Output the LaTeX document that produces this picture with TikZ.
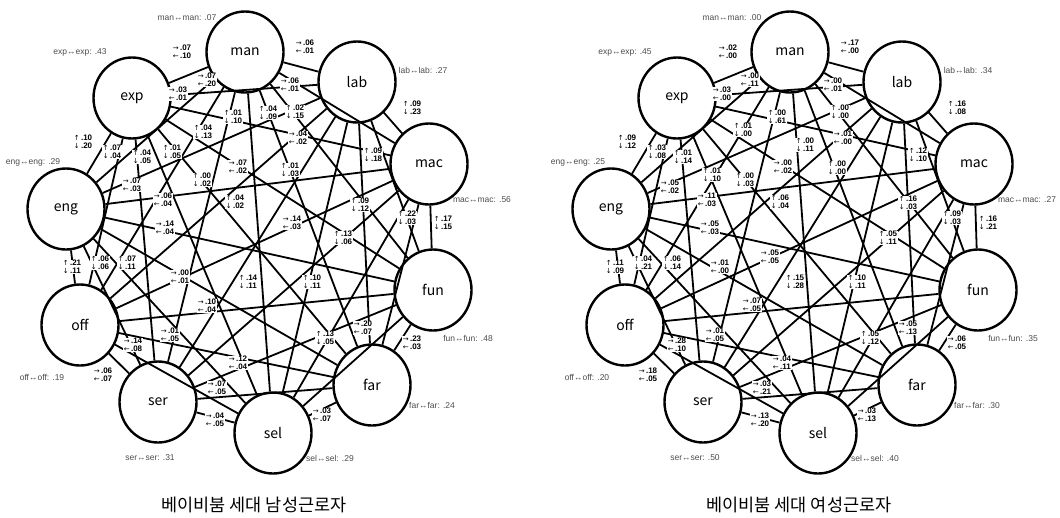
\documentclass[tikz,border=0pt]{standalone}
\usepackage{fontspec}
\setmainfont{Liberation Sans}
\newfontfamily\kr{Noto Sans CJK KR}
\newfontfamily\arr{DejaVu Sans}
\usetikzlibrary{shapes.geometric}
\newcommand\ra{{\arr\mdseries\fontsize{7}{7}\selectfont →}}
\newcommand\la{{\arr\mdseries\fontsize{7}{7}\selectfont ←}}
\newcommand\ua{{\arr\mdseries\fontsize{7}{7}\selectfont ↑}}
\newcommand\da{{\arr\mdseries\fontsize{7}{7}\selectfont ↓}}
\begin{document}
\begin{tikzpicture}[x=1pt,y=-1pt,
  var/.style={ellipse,draw,line width=2.4pt,minimum width=77pt,minimum height=81pt,
    inner sep=0pt,fill=white,font=\kr\fontsize{14}{14}\selectfont},
  edge/.style={line width=1.8pt},
  hlab/.style={fill=white,inner sep=0.8pt,align=left,
    font=\bfseries\fontsize{8}{7.6}\selectfont},
  selflab/.style={inner sep=0pt,text=black!70,font=\fontsize{8.5}{9}\selectfont},
  caption/.style={inner sep=0pt,font=\kr\fontsize{17.5}{18}\selectfont}]
\useasboundingbox (0,0) rectangle (1060,517);

% latent variables of both panels (right panel shifted by 545)
\foreach \p/\dx in {L/0,R/545}{
  \foreach \n/\x/\y in {man/245/52,lab/357/82,mac/429/164,fun/433/290,far/372/385,
                       sel/273/433,ser/158/402,off/80/325,eng/66/209,exp/132/98}
    \node[var] (\p-\n) at (\x+\dx,\y) {\n};
}

% every pair of variables is connected
\foreach \p in {L,R}{
  \foreach \a [count=\i] in {man,lab,mac,fun,far,sel,ser,off,eng,exp}{
    \foreach \b [count=\j] in {man,lab,mac,fun,far,sel,ser,off,eng,exp}{
      \ifnum\j>\i \draw[edge] (\p-\a) -- (\p-\b);\fi
    }}}

% self-association labels
\foreach \n/\x/\y/\v [count=\k] in {
    man/187/18/.07, exp/80/52/.43, lab/423/70/.27, eng/33/162/.29, mac/482/200/.56,
    fun/468/338/.48, off/42/377/.19, far/432/405/.24, ser/150/458/.31, sel/330/458/.29,
    man/732/18/.00, exp/625/52/.45, lab/968/70/.34, eng/578/162/.25, mac/1027/200/.27,
    fun/1013/338/.35, off/587/377/.20, far/977/405/.30, ser/695/458/.50, sel/875/458/.40}
  \node[selflab] (self\k) at (\x,\y) {\n↔\n: \v};

% horizontal cross-association labels
\foreach \x/\y/\a/\b [count=\k] in {
  182/52/.07/.10, 305/47/.06/.01, 207/80/.07/.20, 290/85/.06/.01, 178/94/.03/.01,
  298/138/.04/.02, 238/167/.07/.02, 132/185/.07/.03, 163/200/.06/.04, 165/228/.14/.04,
  292/223/.14/.03, 180/277/.00/.01, 207/306/.10/.04, 170/335/.01/.05, 133/345/.14/.08,
  238/363/.12/.04, 363/328/.20/.07, 412/343/.23/.03, 103/375/.06/.07, 217/388/.07/.05,
  215/420/.04/.05, 322/415/.03/.07,
  728/52/.02/.00, 850/47/.17/.00, 750/80/.00/.11, 833/85/.00/.01, 722/94/.03/.00,
  843/138/.01/.00, 783/167/.00/.02, 670/187/.05/.02, 707/200/.11/.03, 710/228/.05/.03,
  770/257/.05/.05, 720/267/.01/.00, 752/305/.07/.05, 715/335/.01/.05, 677/345/.28/.10,
  782/363/.04/.11, 908/328/.05/.13, 957/343/.06/.05, 648/375/.18/.05, 762/388/.03/.21,
  760/420/.13/.20, 867/415/.03/.13}
  \node[hlab] (h\k) at (\x,\y) {\ra\,\a\\\la\,\b};

% vertical cross-association labels
\foreach \x/\y/\a/\b [count=\k] in {
  268/113/.04/.09, 295/112/.02/.15, 412/108/.09/.23, 233/117/.01/.10, 203/132/.04/.13,
  83/142/.10/.20, 112/152/.07/.04, 142/157/.04/.05, 172/152/.01/.05, 202/180/.00/.02,
  290/170/.01/.03, 373/155/.09/.18, 235/202/.04/.02, 360/205/.09/.12, 407/218/.22/.03,
  443/223/.17/.15, 343/238/.13/.06, 72/267/.21/.11, 100/263/.06/.06, 127/263/.07/.11,
  248/282/.14/.11, 312/282/.10/.11, 325/338/.13/.05,
  805/145/.00/.11, 840/112/.00/.00, 957/108/.16/.08, 777/117/.00/.61, 743/130/.01/.00,
  627/142/.09/.12, 657/152/.03/.08, 683/157/.01/.14, 712/175/.01/.10, 745/180/.00/.03,
  837/168/.00/.00, 918/155/.12/.10, 780/202/.06/.04, 908/203/.16/.03, 952/218/.09/.03,
  988/223/.16/.21, 888/238/.05/.11, 615/267/.11/.09, 643/263/.04/.21, 672/263/.06/.14,
  795/282/.15/.28, 857/282/.10/.11, 870/338/.05/.12}
  \node[hlab] (v\k) at (\x,\y) {\ua\,\a\\\da\,\b};

% panel titles
\node[caption] (capL) at (254,505) {베이비붐 세대 남성근로자};
\node[caption] (capR) at (799,505) {베이비붐 세대 여성근로자};
\end{tikzpicture}
\end{document}
